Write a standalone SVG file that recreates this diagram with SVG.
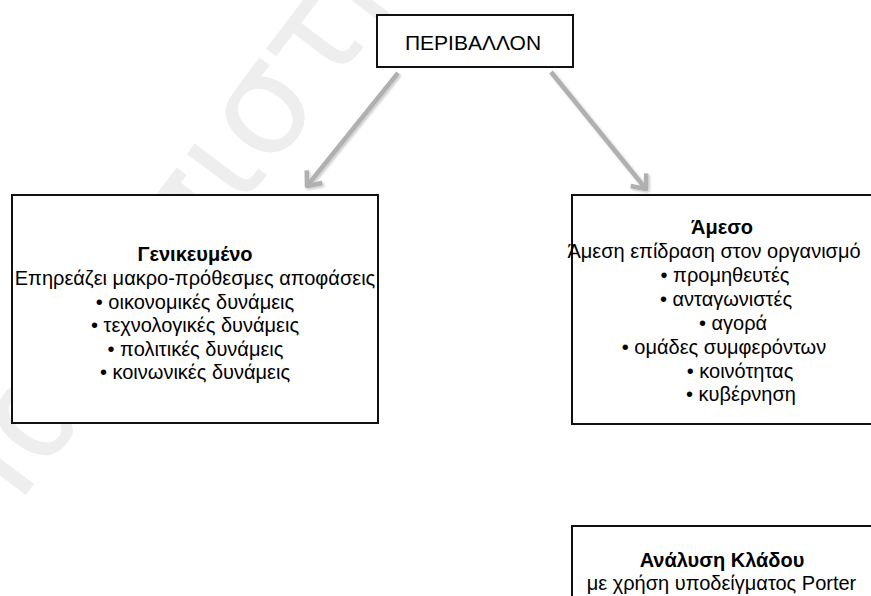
<svg xmlns="http://www.w3.org/2000/svg" width="871" height="596" viewBox="0 0 871 596">
  <style>
    .box { fill: #ffffff; stroke: #111111; stroke-width: 2; }
    .txt { font-family: "Liberation Sans", Arial, sans-serif; font-size: 20px; fill: #000000; text-anchor: middle; }
    .title { font-weight: bold; }
    .conn { fill: none; stroke: #b0b0b0; stroke-width: 4.5; filter: url(#soft); }
    .mark { font-family: "DejaVu Sans", "Noto Sans", sans-serif; font-size: 140px; fill: #eeeeee; }
  </style>
  <defs>
    <filter id="soft" x="-20%" y="-20%" width="140%" height="140%">
      <feDropShadow dx="1.5" dy="1.5" stdDeviation="1.2" flood-color="#000000" flood-opacity="0.22"/>
    </filter>
    <marker id="chevron" markerUnits="userSpaceOnUse" markerWidth="26" markerHeight="26" viewBox="0 0 26 26" refX="16" refY="13" orient="auto">
      <path d="M4,3 L16,13 L4,23" fill="none" stroke="#b0b0b0" stroke-width="4.5" stroke-linejoin="round"/>
    </marker>
  </defs>

  <rect width="871" height="596" fill="#ffffff"/>

  <!-- background watermark -->
  <text class="mark" x="-21" y="557" transform="rotate(-53 -21 557)">Πανεπιστήμιο</text>

  <g id="connectors">
    <path class="conn" d="M398,73 L307,186" marker-end="url(#chevron)"/>
    <path class="conn" d="M551,72 L646,189" marker-end="url(#chevron)"/>
    <path class="conn" d="M717,428 L717,524" marker-end="url(#chevron)"/>
  </g>

  <g id="environment">
    <rect class="box" x="377" y="15" width="196" height="52"/>
    <text class="txt" x="473" y="50" style="font-size:21px">ΠΕΡΙΒΑΛΛΟΝ</text>
  </g>

  <g id="general">
    <rect class="box" x="12" y="195" width="366" height="228"/>
    <text class="txt title" x="195" y="261">Γενικευμένο</text>
    <text class="txt" x="195" y="285">Επηρεάζει μακρο-πρόθεσμες αποφάσεις</text>
    <text class="txt" x="195" y="308.5">• οικονομικές δυνάμεις</text>
    <text class="txt" x="195" y="332">• τεχνολογικές δυνάμεις</text>
    <text class="txt" x="195.5" y="355.5">• πολιτικές δυνάμεις</text>
    <text class="txt" x="195" y="379">• κοινωνικές δυνάμεις</text>
  </g>

  <g id="immediate">
    <rect class="box" x="572" y="195" width="302" height="229"/>
    <text class="txt title" x="722" y="234">Άμεσο</text>
    <text class="txt" x="714" y="258">Άμεση επίδραση στον οργανισμό</text>
    <text class="txt" x="725" y="282">• προμηθευτές</text>
    <text class="txt" x="726" y="306">• ανταγωνιστές</text>
    <text class="txt" x="733" y="330">• αγορά</text>
    <text class="txt" x="724" y="354">• ομάδες συμφερόντων</text>
    <text class="txt" x="740" y="378">• κοινότητας</text>
    <text class="txt" x="741" y="401">• κυβέρνηση</text>
  </g>

  <g id="industry">
    <rect class="box" x="572" y="526" width="302" height="90"/>
    <text class="txt title" x="722" y="566.5">Ανάλυση Κλάδου</text>
    <text class="txt" x="721.5" y="590">με χρήση υποδείγματος Porter</text>
  </g>
</svg>
